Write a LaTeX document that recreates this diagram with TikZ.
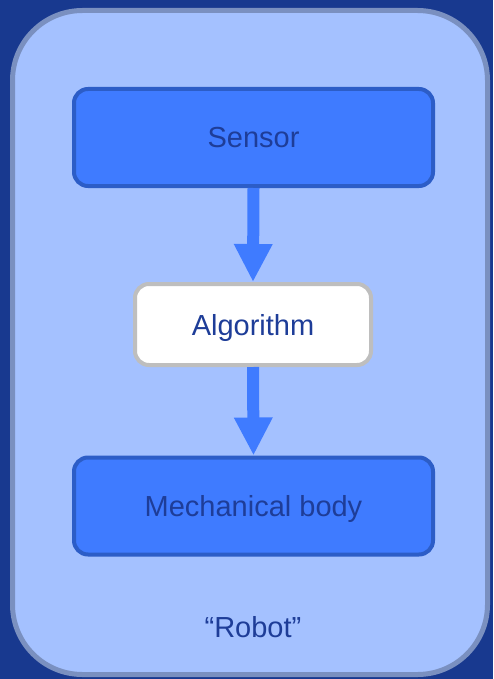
\documentclass[tikz,border=0pt]{standalone}
\usepackage{fontspec}
\setmainfont{Liberation Sans}
\usetikzlibrary{arrows.meta}

\definecolor{bgblue}{RGB}{24,57,143}
\definecolor{robotfill}{RGB}{164,193,255}
\definecolor{robotedge}{RGB}{122,144,192}
\definecolor{boxfill}{RGB}{63,123,255}
\definecolor{boxedge}{RGB}{44,93,199}
\definecolor{algoedge}{RGB}{190,190,190}
\definecolor{textblue}{RGB}{30,61,152}

\begin{document}
\begin{tikzpicture}[x=1pt,y=-1pt,
    box/.style={draw=boxedge, fill=boxfill, line width=4pt, rounded corners=14pt,
      minimum width=359pt, minimum height=97pt, inner sep=0pt, text=textblue,
      text depth=0pt, font=\fontsize{29}{34}\selectfont},
    flow/.style={boxfill, line width=12pt, -{Triangle[width=36pt,length=38pt]}}]

      \fill[bgblue] (0,0) rectangle (493,679);
      \draw[robotedge, fill=robotfill, line width=5pt, rounded corners=70pt]
        (12.5,10.5) rectangle (487.5,674.5);

      \node[box] (sensor) at (253.5,137.5) {Sensor};
      \node[box, fill=white, draw=algoedge, minimum width=236pt, minimum height=81pt]
        (algo) at (253,324.5) {Algorithm};
      \node[box] (body) at (253.5,506) {Mechanical body};

      \node[text=textblue, font=\fontsize{29}{34}\selectfont] (robot) at (253,627) {“Robot”};

      \foreach \a/\b in {sensor/algo, algo/body} {
        \draw[flow] (\a.south) -- (\b.north);
      }

    \end{tikzpicture}
\end{document}
